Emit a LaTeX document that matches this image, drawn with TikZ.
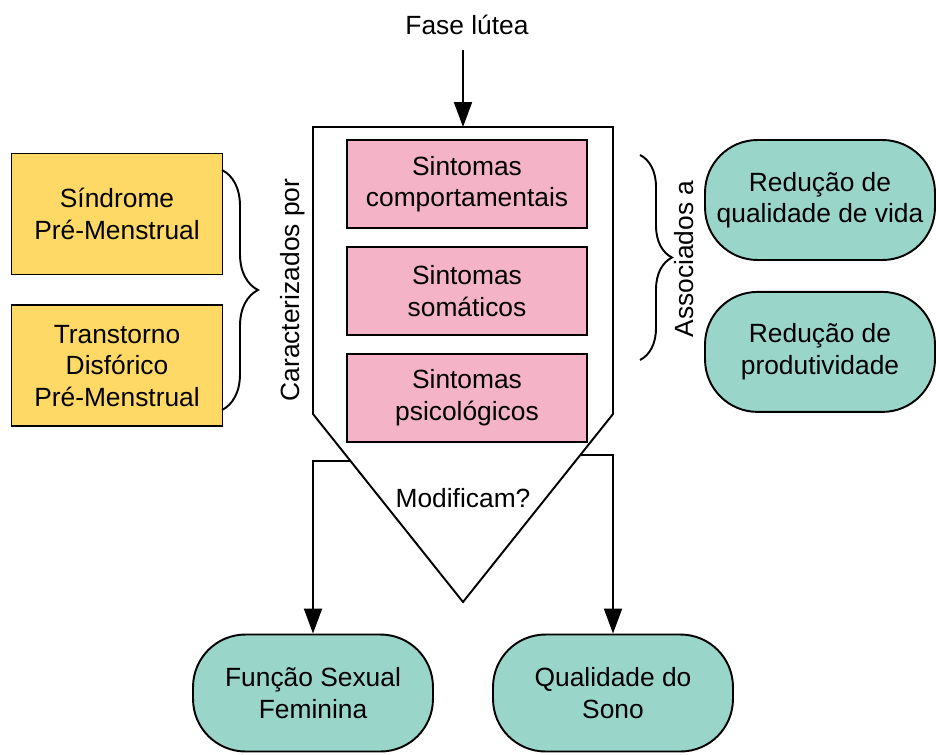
\documentclass[tikz,border=0pt]{standalone}
\usepackage{fontspec}
\setmainfont{Liberation Sans}
\usetikzlibrary{arrows.meta,positioning,decorations.pathreplacing}
\definecolor{amarelo}{HTML}{FFD966}
\definecolor{rosa}{HTML}{F4B3C6}
\definecolor{verde}{HTML}{9AD5CA}

\begin{document}
\begin{tikzpicture}[
				x=0.02cm,y=-0.02cm,
				line width=1.1pt,
				font=\fontsize{15}{18}\selectfont,
				sindrome/.style={draw,rectangle,fill=amarelo,minimum width=4.22cm,minimum height=2.42cm,align=center},
				sintoma/.style={draw,rectangle,fill=rosa,minimum width=4.8cm,minimum height=1.76cm,align=center},
				efeito/.style={draw,rectangle,rounded corners=1.05cm,fill=verde,minimum width=4.6cm,minimum height=2.4cm,align=center},
				seta/.style={-{Triangle[length=0.5cm,width=0.36cm]}},
				chave/.style={decorate,decoration={brace,amplitude=#1}}
				]
				\useasboundingbox (0,0) rectangle (936,754);
				
				% Fase lutea e bloco central
				\node (fase) at (467,25) {Fase lútea};
				\draw (313,127) coordinate (topo) -- (613,127) -- (613,414) -- (463,602) -- (313,414) -- cycle;
				\coordinate (entrada) at (463,127);
				\draw[seta] (entrada |- fase.south) ++(0,8) -- (entrada);
				
				% Sintomas
				\node[sintoma] (comport) at (467,184) {Sintomas\\comportamentais};
				\node[sintoma,below=0.34cm of comport] (somat) {Sintomas\\somáticos};
				\node[sintoma,below=0.34cm of somat] (psico) {Sintomas\\psicológicos};
				\node[rotate=90] (caract) at (293,290) {Caracterizados por};
				\node (modif) at (463,498) {Modificam?};
				
				% Sindromes
				\node[sindrome] (spm) at (117,214) {Síndrome\\Pré-Menstrual};
				\node[sindrome,below=0.58cm of spm] (tdpm) {Transtorno\\Disfórico\\Pré-Menstrual};
				\draw[chave=0.72cm] (222,170) -- (222,410);
				
				% Consequencias
				\node[efeito] (qvida) at (820,200) {Redução de\\qualidade de vida};
				\node[efeito,below=0.6cm of qvida] (produt) {Redução de\\produtividade};
				\node[rotate=90] (assoc) at (684,259) {Associados a};
				\draw[chave=0.64cm] (640,155) -- (640,360);
				
				% Desfechos
				\node[efeito,minimum width=4.8cm,minimum height=2.34cm] (sexual) at (313,693) {Função Sexual\\Feminina};
				\node[efeito,minimum width=4.8cm,minimum height=2.34cm] (sono) at (613,693) {Qualidade do\\Sono};
				\coordinate (saidaesq) at (351,461);
				\coordinate (saidadir) at (580,455);
				\draw[seta] (saidaesq) -| (sexual.north);
				\draw[seta] (saidadir) -| (sono.north);
				
\end{tikzpicture}
\end{document}
